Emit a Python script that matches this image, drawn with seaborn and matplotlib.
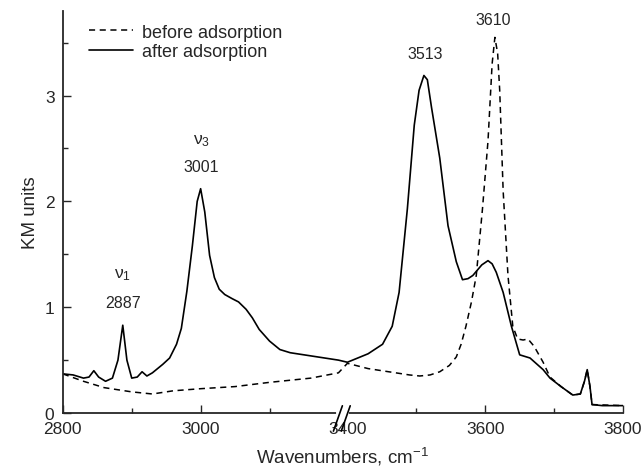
import numpy as np
import pandas as pd
import seaborn as sns
import matplotlib.pyplot as plt
from matplotlib.lines import Line2D

# spectra (wavenumber, KM units)
after_x = [2800, 2815, 2830, 2838, 2845, 2852, 2862, 2872, 2880, 2887, 2893, 2900, 2908,
           2915, 2922, 2930, 2945, 2955, 2965, 2972, 2980, 2988, 2995, 3000, 3006, 3013,
           3020, 3027, 3035, 3046, 3055, 3066, 3075, 3085, 3100, 3115, 3130, 3150, 3170,
           3200, 3400, 3430, 3451, 3465, 3475, 3487, 3497, 3504, 3511, 3516, 3522, 3534,
           3546, 3558, 3567, 3575, 3582, 3595, 3604, 3610, 3616, 3626, 3638, 3650, 3665,
           3684, 3694, 3710, 3727, 3738, 3744, 3748, 3752, 3755, 3770, 3800]
after_y = [0.37, 0.36, 0.33, 0.34, 0.40, 0.34, 0.30, 0.33, 0.50, 0.83, 0.50, 0.33, 0.34,
           0.39, 0.35, 0.38, 0.46, 0.52, 0.65, 0.80, 1.15, 1.58, 2.00, 2.12, 1.90, 1.49,
           1.28, 1.17, 1.12, 1.08, 1.05, 0.98, 0.90, 0.79, 0.68, 0.60, 0.57, 0.55, 0.53,
           0.50, 0.48, 0.56, 0.65, 0.82, 1.14, 1.93, 2.72, 3.05, 3.19, 3.15, 2.89, 2.41,
           1.77, 1.43, 1.26, 1.27, 1.30, 1.40, 1.44, 1.41, 1.33, 1.14, 0.82, 0.55, 0.52,
           0.41, 0.33, 0.25, 0.17, 0.18, 0.30, 0.41, 0.25, 0.08, 0.07, 0.07]

before_x = [2800, 2830, 2860, 2900, 2930, 2960, 3000, 3050, 3100, 3130, 3160, 3200,
            3400, 3430, 3460, 3490, 3505, 3520, 3534, 3548, 3558, 3565, 3572, 3580,
            3587, 3596, 3604, 3610, 3614, 3618, 3621, 3626, 3633, 3640, 3647, 3655,
            3662, 3671, 3684, 3694, 3710, 3727, 3738, 3744, 3748, 3752, 3755, 3800]
before_y = [0.37, 0.30, 0.24, 0.20, 0.18, 0.21, 0.23, 0.25, 0.29, 0.31, 0.33, 0.38,
            0.47, 0.42, 0.39, 0.36, 0.35, 0.36, 0.39, 0.45, 0.53, 0.65, 0.82, 1.05,
            1.30, 1.93, 2.57, 3.30, 3.55, 3.40, 3.05, 2.10, 1.30, 0.82, 0.70, 0.69,
            0.70, 0.63, 0.48, 0.34, 0.25, 0.17, 0.18, 0.30, 0.41, 0.25, 0.08, 0.07]

peak_labels = ["2887", "3001", "3513", "3610"]
peak_pos = [(2887, 1.04), (3001, 2.33), (3513, 3.40), (3612, 3.72)]
mode_labels = [r"$\mathregular{\nu_1}$", r"$\mathregular{\nu_3}$"]
mode_pos = [(2887, 1.31), (3001, 2.58)]

# broken axis: 3200-3400 squeezed into a few pixels
def fwd(x):
    x = np.asarray(x, dtype=float)
    return np.where(x <= 3200, x,
                    np.where(x <= 3400, 3200 + (x - 3200) * 0.065, 3213 + (x - 3400)))

def inv(u):
    u = np.asarray(u, dtype=float)
    return np.where(u <= 3200, u,
                    np.where(u <= 3213, 3200 + (u - 3200) / 0.065, 3400 + (u - 3213)))

sns.set_style("ticks")
plt.rcParams['font.family'] = ['Liberation Sans', 'DejaVu Sans']
plt.rcParams['mathtext.fontset'] = 'custom'
plt.rcParams['mathtext.rm'] = 'Liberation Sans'
plt.rcParams['mathtext.it'] = 'Liberation Sans:italic'

fig, ax = plt.subplots(figsize=(6.41, 4.77), dpi=100)
fig.subplots_adjust(left=0.098, right=0.972, bottom=0.132, top=0.975)

df_before = pd.DataFrame({"x": before_x, "y": before_y})
df_after = pd.DataFrame({"x": after_x, "y": after_y})
sns.lineplot(data=df_before, x="x", y="y", ax=ax, color="black", lw=1.1,
             linestyle=(0, (4, 3)), sort=False, estimator=None)
sns.lineplot(data=df_after, x="x", y="y", ax=ax, color="black", lw=1.2,
             sort=False, estimator=None)

ax.set_xscale('function', functions=(fwd, inv))
ax.set_xlim(2800, 3800)
ax.set_ylim(0, 3.8)
ax.set_xticks([2800, 3000, 3400, 3600, 3800])
ax.set_xticklabels(["2800", "3000", "3400", "3600", "3800"])
ax.set_xticks([2900, 3100, 3500, 3700], minor=True)
ax.xaxis.get_major_ticks()[2].tick1line.set_visible(False)
ax.set_yticks([0, 1, 2, 3])
ax.set_yticks([0.5, 1.5, 2.5, 3.5], minor=True)
ax.tick_params(which='major', direction='in', length=6, width=1, labelsize=12.5, pad=6)
ax.tick_params(which='minor', direction='in', length=3.5, width=1)
sns.despine(ax=ax)
for s in ['left', 'bottom']:
    ax.spines[s].set_linewidth(1.3)

ax.set_xlabel("Wavenumbers, cm$^{-1}$", fontsize=13.5, labelpad=6)
ax.set_ylabel("KM units", fontsize=13.5, labelpad=4)

for lab, (px, py) in zip(peak_labels, peak_pos):
    ax.text(px, py, lab, ha='center', va='center', fontsize=11.5)
for lab, (px, py) in zip(mode_labels, mode_pos):
    ax.text(px, py, lab, ha='center', va='center', fontsize=12.5)

# break marks on the x axis
bx = (fwd(3300) - 2800) / (fwd(3800) - 2800)
ax.plot([bx - 0.008, bx + 0.008], [0, 0], color='white', lw=3, transform=ax.transAxes,
        clip_on=False, zorder=5)
for dx in (-0.009, 0.005):
    ax.plot([bx + dx - 0.008, bx + dx + 0.008], [-0.045, 0.018], color='black', lw=1.2,
            transform=ax.transAxes, clip_on=False, zorder=6)

handles = [Line2D([], [], color='black', lw=1.1, linestyle=(0, (4, 3))),
           Line2D([], [], color='black', lw=1.2)]
ax.legend(handles, ["before adsorption", "after adsorption"], loc='upper left',
          bbox_to_anchor=(0.025, 1.0), frameon=False, fontsize=13, handlelength=2.4,
          handletextpad=0.5, labelspacing=0.15, borderaxespad=0.3)

fig.savefig("out.png", dpi=100)
